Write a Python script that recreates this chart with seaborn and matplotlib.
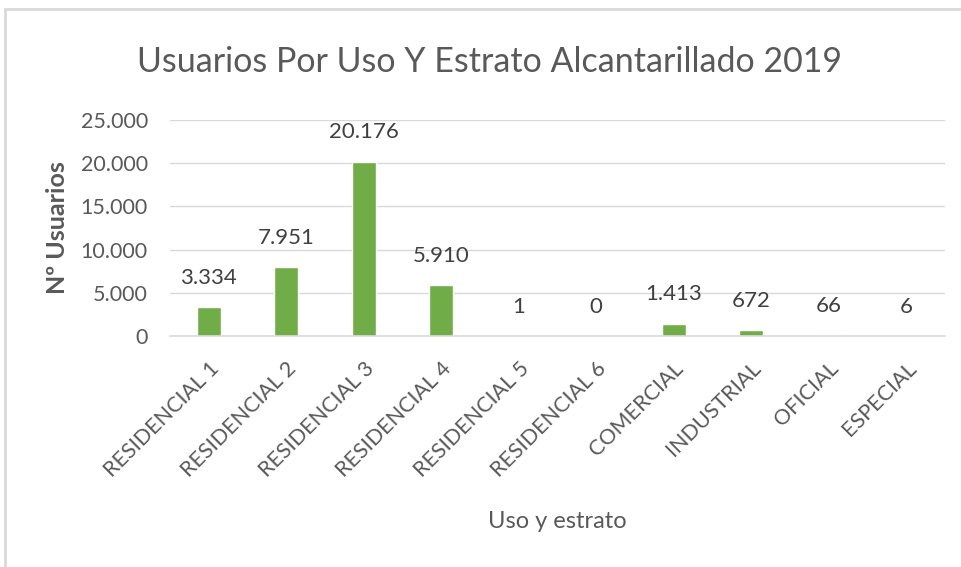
import matplotlib
matplotlib.use("Agg")
import matplotlib.pyplot as plt
import seaborn as sns
import pandas as pd
from matplotlib.patches import Rectangle
from matplotlib.ticker import FuncFormatter

# data
categorias = ["RESIDENCIAL 1", "RESIDENCIAL 2", "RESIDENCIAL 3", "RESIDENCIAL 4",
              "RESIDENCIAL 5", "RESIDENCIAL 6", "COMERCIAL", "INDUSTRIAL",
              "OFICIAL", "ESPECIAL"]
usuarios = [3334, 7951, 20176, 5910, 1, 0, 1413, 672, 66, 6]
y_ticks = [0, 5000, 10000, 15000, 20000, 25000]

df = pd.DataFrame({"uso": categorias, "usuarios": usuarios})

sns.set_style("white")
plt.rcParams['font.family'] = ['Lato', 'DejaVu Sans']
gris = "#595959"

def miles(v, pos=None):
    return f"{int(v):,}".replace(",", ".")

fig = plt.figure(figsize=(9.62, 5.67), dpi=100)
ax = fig.add_axes([0.1767, 0.4074, 0.8053, 0.381])

sns.barplot(data=df, x="uso", y="usuarios", color="#70AD47", width=0.31,
            saturation=1, ax=ax)

ax.set_ylim(0, 25000)
ax.set_xlim(-0.5, len(categorias) - 0.5)
ax.set_yticks(y_ticks)
ax.yaxis.set_major_formatter(FuncFormatter(miles))
ax.yaxis.grid(True, color="#D9D9D9", lw=1)
ax.set_axisbelow(True)
for s in ["top", "right", "left"]:
    ax.spines[s].set_visible(False)
ax.spines["bottom"].set_color("#D9D9D9")
ax.spines["bottom"].set_linewidth(1.2)
ax.tick_params(axis="both", length=0, colors=gris)
ax.tick_params(axis="y", pad=16, labelsize=15.5)
ax.tick_params(axis="x", pad=16, labelsize=15.5)
plt.setp(ax.get_xticklabels(), rotation=45, ha="right", rotation_mode="anchor")

for i, v in enumerate(usuarios):
    ax.text(i, v + 3400, miles(v), ha="center", va="center", fontsize=16, color="#404040")

ax.set_xlabel("Uso y estrato", fontsize=17, color=gris, labelpad=22)
ax.set_ylabel("Nº Usuarios", fontsize=18, color=gris, fontweight="bold", labelpad=8)
fig.text(0.509, 0.89, "Usuarios Por Uso Y Estrato Alcantarillado 2019",
         ha="center", va="center", fontsize=24.5, color=gris)

fig.patches.append(Rectangle((5 / 962, -0.1), 1.2, 1 - 9 / 567 + 0.1,
                             transform=fig.transFigure, fill=False,
                             edgecolor="#D9D9D9", lw=2))

fig.savefig("out.png", dpi=100)
